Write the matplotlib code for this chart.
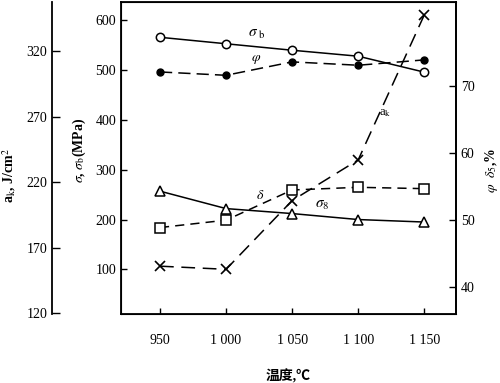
import matplotlib
matplotlib.use("Agg")
import matplotlib.pyplot as plt

plt.rcParams['font.family'] = ['Liberation Serif', 'Noto Sans CJK SC']
plt.rcParams['mathtext.fontset'] = 'stix'

temps = [950, 1000, 1050, 1100, 1150]
sigma_b = [566, 553, 540, 528, 496]
sigma_s = [257, 222, 212, 200, 195]
phi = [72.1, 71.6, 73.6, 73.1, 73.9]
delta = [48.9, 50.0, 54.5, 54.9, 54.7]
a_k = [156, 153.6, 206, 237, 347.5]

x_ticks = [950, 1000, 1050, 1100, 1150]
x_ticklabels = ['950', '1 000', '1 050', '1 100', '1 150']
sigma_ticks = [100, 200, 300, 400, 500, 600]
ak_ticks = [120, 170, 220, 270, 320]
pct_ticks = [40, 50, 60, 70]

W, H = 500, 383
fig = plt.figure(figsize=(5, 3.83), dpi=100)
ax = fig.add_axes([0.242, 0.180, 0.670, 0.816])
ax.set_xlim(920.5, 1174)
ax.set_ylim(10.2, 637.8)

# sigma axis
ax.plot(temps, sigma_b, '-', color='black', lw=1.1, marker='o', ms=6,
        mfc='white', mec='black', mew=1.1)
ax.plot(temps, sigma_s, '-', color='black', lw=1.1, marker='^', ms=7,
        mfc='white', mec='black', mew=1.1)
ax.set_xticks(x_ticks)
ax.set_xticklabels(x_ticklabels, fontsize=10)
ax.set_yticks(sigma_ticks)
ax.tick_params(axis='both', direction='in', length=4, labelsize=10, width=1)
ax.tick_params(axis='x', pad=14)
ax.set_xlabel('温度,℃', fontsize=10, fontweight='bold', labelpad=16)
for s in ax.spines.values():
    s.set_linewidth(1.3)

# right axis (phi, delta)
ax2 = ax.twinx()
ax2.set_ylim(36.0, 82.6)
ax2.plot(temps, phi, color='black', lw=1.1, ls=(0, (8, 4)), marker='o', ms=5,
         mfc='black', mec='black')
ax2.plot(temps, delta, color='black', lw=1.1, ls=(0, (6, 4)), marker='s', ms=6.5,
         mfc='white', mec='black', mew=1.1)
ax2.set_yticks(pct_ticks)
ax2.tick_params(axis='y', direction='in', length=5, labelsize=10, width=1)
ax2.spines['right'].set_linewidth(1.3)

# left-most axis (a_k)
ax3 = ax.twinx()
ax3.set_ylim(119.5, 357.7)
ax3.spines['right'].set_visible(False)
ax3.spines['top'].set_visible(False)
ax3.spines['bottom'].set_visible(False)
ax3.spines['left'].set_visible(True)
ax3.spines['left'].set_position(('axes', -0.206))
ax3.spines['left'].set_linewidth(1.3)
ax3.yaxis.set_ticks_position('left')
ax3.plot(temps, a_k, color='black', lw=1.1, ls=(0, (9, 5)), marker='x', ms=7, mew=1.2)
ax3.set_yticks(ak_ticks)
ax3.tick_params(axis='y', direction='in', length=6, labelsize=10, width=1)

# axis titles
fig.text(9 / W, 1 - 176 / H, r'a$_{\rm k}$, J/cm$^2$', fontsize=10, fontweight='bold',
         rotation=90, ha='center', va='center')
fig.text(79 / W, 1 - 150 / H, r'$\sigma$, $\sigma_{\rm b}$(MPa)', fontsize=10,
         fontweight='bold', rotation=90, ha='center', va='center')
fig.text(492 / W, 1 - 170 / H, r'$\varphi$  $\delta_5$,%', fontsize=10, fontweight='bold',
         rotation=90, ha='center', va='center')

# curve labels
ax.text(1023, 572, r'$\sigma_{\rm\ b}$', fontsize=11, ha='center', va='center')
ax.text(1023, 522, r'$\varphi$', fontsize=10, ha='center', va='center')
ax.text(1120, 413, r'a$_{\rm k}$', fontsize=9, ha='center', va='center')
ax.text(1026, 249, r'$\delta$', fontsize=10, ha='center', va='center')
ax.text(1073, 229, r'$\sigma_8$', fontsize=11, ha='center', va='center')

fig.savefig('out.png', dpi=100)
